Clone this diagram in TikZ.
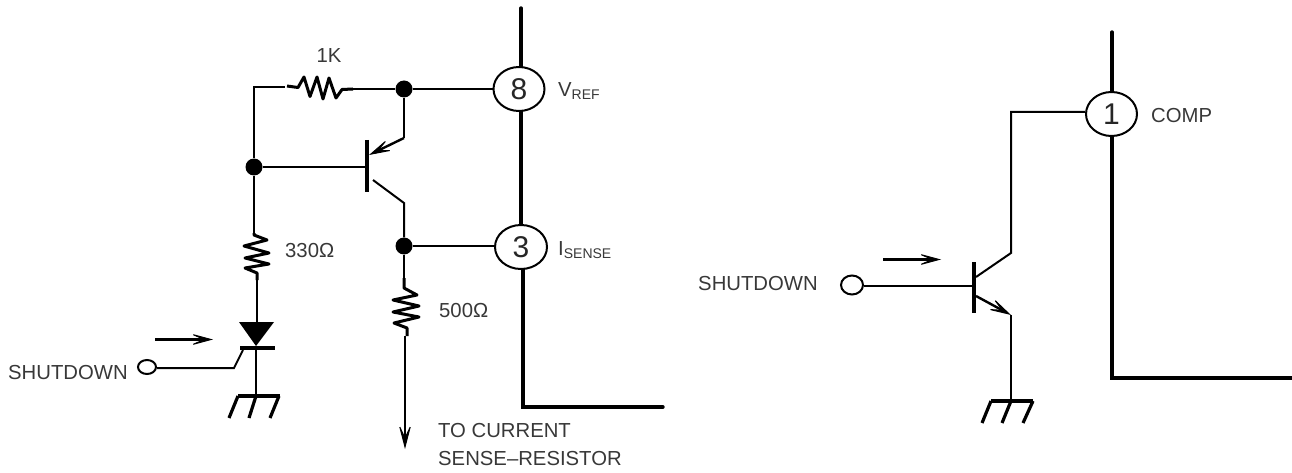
\documentclass[tikz,border=0pt]{standalone}
\usepackage{fontspec}
\setmainfont{Liberation Sans}
\usetikzlibrary{arrows.meta,shapes.geometric}
\tikzset{
  wire/.style={line width=2pt,black},
  heavy/.style={line width=3.4pt,black,line cap=round,line join=miter},
  res/.style={line width=3pt,black,line join=round},
  bar/.style={line width=4.8pt,black},
  gnd/.style={line width=3.2pt,black},
  pin/.style={ellipse,draw=black,line width=2pt,fill=white,minimum width=51pt,minimum height=44pt,inner sep=0pt,font=\fontsize{30}{30}\selectfont,text=black!85},
  port/.style={ellipse,draw=black,line width=2pt,fill=white,inner sep=0pt},
  dot/.style={circle,fill=black,inner sep=0pt,minimum size=17pt},
  lbl/.style={anchor=west,inner sep=0pt,font=\fontsize{20.3}{20.3}\selectfont,text=black!78},
  flow/.style={line width=2.4pt,-{Stealth[length=26pt,width=14pt,inset=16pt,line width=1pt]}},
  tipwire/.style={line width=2.2pt,-{Stealth[length=27pt,width=14pt,inset=15pt,line width=1pt]}},
  emit/.style={line width=2.4pt,-{Stealth[length=26pt,width=14pt,inset=15pt,line width=1pt]}}
}
\newcommand{\smalltxt}[1]{\raisebox{-3pt}{\fontsize{14}{14}\selectfont #1}}
\newcommand{\pinnum}[1]{\raisebox{-3pt}{#1}}
\begin{document}
\begin{tikzpicture}[x=1pt,y=-1pt]
\useasboundingbox (0,0) rectangle (1292,473);
% ---- left IC outline
\coordinate (ltop) at (521,8);
\coordinate (lcorner) at (523,407);
\coordinate (lend) at (663,407);
\draw[heavy] (ltop) -- (521,250);
\draw[heavy,line join=miter] (523,250) -- (lcorner) -- (lend);
\node[pin] (p8) at (519,89) {\pinnum{8}};
\node[pin,minimum width=52pt] (p3) at (521,247) {\pinnum{3}};
\node[lbl] (vref) at (558,91) {V\smalltxt{REF}};
\node[lbl] (isense) at (558,250) {I\smalltxt{SENSE}};
% ---- dots
\node[dot] (d1) at (404,89) {};
\node[dot] (d2) at (254,167) {};
\node[dot] (d3) at (404,246) {};
% ---- 1K resistor and top wire
\coordinate (c1) at (254,87);
\coordinate (r1a) at (285,87);
\coordinate (r1b) at (353,89);
\draw[wire] (d2) -- (c1) -- (r1a);
\draw[res] (287,86) -- (298,87.5) -- (304,77) -- (310,96.5) -- (317,77) -- (323,99) -- (329,78) -- (336,98) -- (342,89.5) -- (r1b);
\draw[wire] (r1b) -- (d1);
\draw[wire] (d1) -- (p8);
\node[lbl,anchor=center] (l1k) at (329,56) {1K};
% ---- PNP
\coordinate (q1b) at (367,167);
\coordinate (q1bt) at (367,140);
\coordinate (q1bb) at (367,192);
\coordinate (q1e) at (404,138);
\coordinate (q1et) at (369,155);
\coordinate (q1c) at (373,180);
\coordinate (q1cb) at (404,203);
\draw[bar] (q1bt) -- (q1bb);
\draw[wire] (d2) -- (q1b);
\draw[line width=2.8pt] (d1) -- (q1e);
\draw[emit] (q1e) -- (q1et);
\draw[wire] (q1c) -- (q1cb) -- (d3);
\draw[wire] (d3) -- (p3.west |- d3);
% ---- 330 ohm
\coordinate (r2a) at (254,233);
\coordinate (r2b) at (257,280);
\draw[wire] (d2) -- (r2a);
\draw[res] (r2a) -- (254,235) -- (267,240) -- (244,246) -- (269,253) -- (245,258) -- (269,264) -- (245,268) -- (257,273) -- (r2b);
\node[lbl] (l330) at (285,251) {330Ω};
% ---- diode
\coordinate (dtop) at (257,322);
\coordinate (dbar) at (256,348);
\coordinate (g1) at (256,396);
\draw[wire] (r2b) -- (dtop);
\fill (239,322) -- (274,322) -- (256,346) -- cycle;
\draw[bar] (240,348) -- (275,348);
\draw[wire] (dbar) -- (g1);
% ---- ground 1
\draw[gnd] (238,396) -- (280,396);
\draw[gnd] (238,396) -- (229,418);
\draw[gnd] (256,396) -- (249,418);
\draw[gnd] (279,396) -- (270,418);
% ---- shutdown left
\node[port,minimum width=18pt,minimum height=14pt] (s1) at (147,367) {};
\coordinate (s1k) at (234,368);
\coordinate (s1g) at (243,350);
\draw[wire] (s1.east |- s1k) -- (s1k) -- (s1g);
\node[lbl] (s1t) at (8,373) {SHUTDOWN};
\coordinate (f1a) at (155,339.5);
\coordinate (f1b) at (213,339.5);
\draw[flow] (f1a) -- (f1b);
% ---- 500 ohm
\coordinate (r3a) at (404,278);
\coordinate (r3b) at (407,336);
\draw[wire] (d3) -- (r3a);
\draw[res] (r3a) -- (404,288) -- (417,295) -- (393,300) -- (419,306) -- (393,312) -- (419,317) -- (394,323) -- (407,328) -- (r3b);
\coordinate (r3t) at (405,449);
\draw[tipwire] (405,336) -- (r3t);
\node[lbl] (l500) at (439,311) {500Ω};
\node[lbl] (lto1) at (438,431) {TO CURRENT};
\node[lbl] (lto2) at (438,459) {SENSE–RESISTOR};
% ---- right IC outline
\coordinate (rtop) at (1112,32);
\coordinate (rcorner) at (1112,378);
\coordinate (rend) at (1292,378);
\draw[heavy] (rtop) -- (rcorner) -- (rend);
\node[pin] (p1) at (1111.5,114) {\pinnum{1}};
\node[lbl] (lcomp) at (1151,116) {COMP};
% ---- NPN
\coordinate (q2w) at (1011,112);
\coordinate (q2c) at (1011,253);
\coordinate (q2ct) at (976,277);
\coordinate (q2b) at (974,286);
\coordinate (q2e) at (976,296);
\coordinate (q2et) at (1011,315);
\coordinate (g2) at (1011,401);
\draw[bar] (974,262) -- (974,313);
\draw[wire] (p1.west |- q2w) -- (q2w) -- (q2c) -- (q2ct);
\node[port,minimum width=22pt,minimum height=19pt] (s2) at (852,285) {};
\draw[wire] (s2.east |- q2b) -- (q2b);
\draw[emit] (q2e) -- (q2et);
\draw[wire] (q2et) -- (g2);
\draw[gnd] (991,401) -- (1033,401);
\draw[gnd] (991,401) -- (982,423);
\draw[gnd] (1011,401) -- (1002,423);
\draw[gnd] (1033,401) -- (1023,423);
\node[lbl] (s2t) at (698,284) {SHUTDOWN};
\coordinate (f2a) at (883,259.5);
\coordinate (f2b) at (941,259.5);
\draw[flow] (f2a) -- (f2b);
\end{tikzpicture}
\end{document}
